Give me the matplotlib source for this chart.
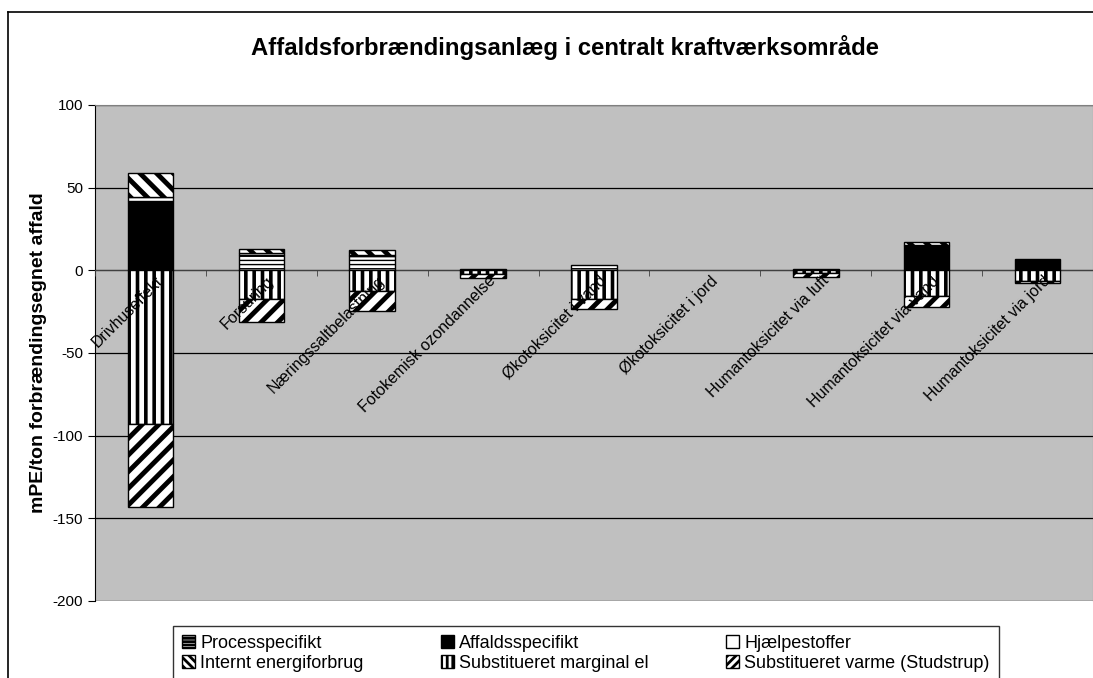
import numpy as np
import matplotlib
matplotlib.use("Agg")
import matplotlib.pyplot as plt
from matplotlib.patches import Patch
from matplotlib.lines import Line2D
from matplotlib.transforms import ScaledTranslation

plt.rcParams['font.family'] = ['Liberation Sans', 'DejaVu Sans']
plt.rcParams['axes.unicode_minus'] = False

categories = ['Drivhuseffekt', 'Forsuring', 'Næringssaltbelastning',
              'Fotokemisk ozondannelse', 'Økotoksicitet i vand',
              'Økotoksicitet i jord', 'Humantoksicitet via luft',
              'Humantoksicitet via vand', 'Humantoksicitet via jord']

series_names = ['Processpecifikt', 'Affaldsspecifikt', 'Hjælpestoffer',
                'Internt energiforbrug', 'Substitueret marginal el',
                'Substitueret varme (Studstrup)']

processpecifikt = [0, 9.3, 8.6, 0.5, 3.0, 0, 0.5, 0, 0]
affaldsspecifikt = [42, 0, 0, 0, 0, 0, 0, 15.0, 6.6]
hjaelpestoffer = [2.5, 1.0, 0.8, 0, 0, 0, 0, 0.5, 0]
internt_energi = [14.5, 2.6, 2.9, 0.2, 0, 0, 0.1, 1.8, 0]
marginal_el = [-93, -17.5, -12.5, -2.0, -17.5, 0, -1.8, -15.4, -6.3]
varme = [-50, -13.5, -11.9, -2.5, -6.1, 0, -2.1, -6.6, -1.6]

series = [processpecifikt, affaldsspecifikt, hjaelpestoffer,
          internt_energi, marginal_el, varme]

# (facecolor, hatch in bars, hatch in legend, hatch linewidth)
styles = [('white', '----', '-----', 1.0),
          ('black', None, None, 1.0),
          ('white', None, None, 1.0),
          ('white', '\\\\', '\\\\\\\\', 3.5),
          ('white', '||', '|||', 2.6),
          ('white', '//', '////', 3.5)]

fig = plt.figure(figsize=(10.93, 6.78), dpi=100)
ax = fig.add_axes([95 / 1093, 1 - 601 / 678, 998 / 1093, 496 / 678])
ax.set_facecolor('#C0C0C0')

x = np.arange(len(categories))
pos_base = np.zeros(len(categories))
neg_base = np.zeros(len(categories))
for vals, (fc, hatch, _, hlw) in zip(series, styles):
    vals = np.array(vals, dtype=float)
    bottoms = np.where(vals >= 0, pos_base, neg_base)
    with plt.rc_context({'hatch.linewidth': hlw}):
        bars = ax.bar(x, vals, width=0.41, bottom=bottoms, color=fc,
                      edgecolor='black', linewidth=1.0, hatch=hatch, zorder=3)
        for b, v in zip(bars, vals):
            if hasattr(b, 'set_hatch_linewidth'):
                b.set_hatch_linewidth(hlw)
            if v == 0:
                b.set_visible(False)
    pos_base = pos_base + np.where(vals > 0, vals, 0)
    neg_base = neg_base + np.where(vals < 0, vals, 0)

ax.set_xlim(-0.5, len(categories) - 0.5)
ax.set_ylim(-200, 100)
ax.set_yticks(np.arange(-200, 101, 50))
ax.yaxis.grid(True, color='black', linewidth=0.9)
ax.set_axisbelow(True)
ax.xaxis.set_zorder(4)

ax.spines['bottom'].set_position(('data', 0))
ax.spines['bottom'].set_color('#404040')
ax.spines['left'].set_color('black')
ax.spines['top'].set_color('#808080')
ax.spines['right'].set_color('#808080')

ax.set_xticks(x)
ax.set_xticks(np.arange(-0.5, len(categories), 1), minor=True)
ax.tick_params(axis='x', which='major', length=0, pad=2)
ax.tick_params(axis='x', which='minor', length=4, direction='out', color='#404040')
ax.set_xticklabels(categories, rotation=45, ha='right', va='top',
                   rotation_mode='anchor', fontsize=11.5)
for lbl in ax.get_xticklabels():
    lbl.set_transform(lbl.get_transform() + ScaledTranslation(0.05, 0, fig.dpi_scale_trans))
ax.tick_params(axis='y', length=5, labelsize=11)

ax.set_ylabel('mPE/ton forbrændingsegnet affald', fontsize=14,
              fontweight='bold', labelpad=4)
fig.text(565 / 1093, 1 - 47 / 678, 'Affaldsforbrændingsanlæg i centralt kraftværksområde',
         ha='center', va='center', fontsize=17.2, fontweight='bold')

# outer chart border
fig.add_artist(Line2D([8 / 1093, 8 / 1093], [0, 1 - 12 / 678], color='black',
                      linewidth=1.2, transform=fig.transFigure))
fig.add_artist(Line2D([8 / 1093, 1], [1 - 12 / 678, 1 - 12 / 678], color='black',
                      linewidth=1.2, transform=fig.transFigure))

handles = []
for name, (fc, _, lhatch, hlw) in zip(series_names, styles):
    handles.append(Patch(facecolor=fc, edgecolor='black', hatch=lhatch,
                         linewidth=1.0, label=name))
order = [0, 3, 1, 4, 2, 5]
with plt.rc_context({'hatch.linewidth': 2.0}):
    leg = fig.legend([handles[i] for i in order], [series_names[i] for i in order],
                     ncol=3, loc='upper left',
                     bbox_to_anchor=(173 / 1093, 1 - 626 / 678),
                     frameon=True, fancybox=False, fontsize=13,
                     handlelength=0.7, handleheight=0.7, handletextpad=0.3,
                     columnspacing=4.3, labelspacing=0.15, borderpad=0.5,
                     borderaxespad=0)
leg.get_frame().set_edgecolor('black')
leg.get_frame().set_linewidth(1.0)

fig.savefig('out.png', dpi=100)
